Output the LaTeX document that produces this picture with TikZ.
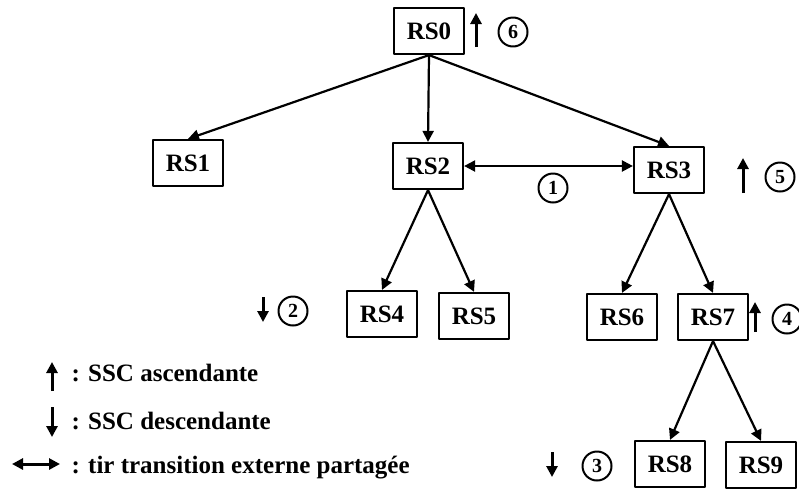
\documentclass[tikz,border=0pt]{standalone}
\usepackage{fontspec}
\setmainfont{Liberation Serif}
\usetikzlibrary{arrows.meta,positioning}

\begin{document}
\begin{tikzpicture}[>={Triangle[length=11pt,width=11pt]},line join=round,
 x=1pt,y=-1pt,font=\bfseries\fontsize{25}{28}\selectfont,
 rsbox/.style={draw,line width=2.2pt,minimum width=70pt,minimum height=46pt,inner sep=0pt},
 tree/.style={line width=2.2pt,->},
 num/.style={draw,circle,line width=2pt,minimum size=29pt,inner sep=0pt,
  font=\bfseries\fontsize{20}{22}\selectfont},
 ssc/.style={line width=3pt,-{Triangle[length=11pt,width=11pt]}}]
 \useasboundingbox (0,0) rectangle (799,488);
 % Stany RS0..RS9.
 \foreach \n/\x/\y in {0/429/31,1/188/163,2/428/166,3/669/170,4/382/314,
   5/474/316,6/622/317,7/713/317,8/670/464,9/761/465}
  \node[rsbox] (rs\n) at (\x,\y) {RS\n};
 % Krawędzie drzewa i wspólne przejście zewnętrzne.
 \foreach \a/\b in {0/1,0/2,0/3,2/4,2/5,3/6,3/7,7/8,7/9}
  \draw[tree] (rs\a.south) -- (rs\b.north);
 \draw[tree,<->] (rs2.east) -- (rs2.east -| rs3.west);
 % Numery kroków.
 \foreach \k/\x/\y in {1/553/188,2/293/311,3/597/466,4/787/319,5/780/177,6/513/32}
  \node[num] (c\k) at (\x,\y) {\k};
 % Strzałki SSC przy numerach.
 \draw[ssc] (476,47) -- ++(0,-34);
 \draw[ssc] (743,193) -- ++(0,-35);
 \draw[ssc] (755,332) -- ++(0,-30);
 \draw[ssc] (263,297) -- ++(0,25);
 \draw[ssc] (552,452) -- ++(0,25);
 % Legenda.
 \draw[ssc] (52,391) -- ++(0,-29);
 \node[anchor=base west] (leg1) at (68,381) {: SSC ascendante};
 \draw[ssc] (52,407) -- ++(0,30);
 \node[anchor=base west] (leg2) at (68,429) {: SSC descendante};
 \draw[ssc,{Triangle[length=11pt,width=11pt]}-{Triangle[length=11pt,width=11pt]}]
  (12,464) -- ++(48,0);
 \node[anchor=base west] (leg3) at (68,473) {: tir transition externe partagée};
\end{tikzpicture}
\end{document}
